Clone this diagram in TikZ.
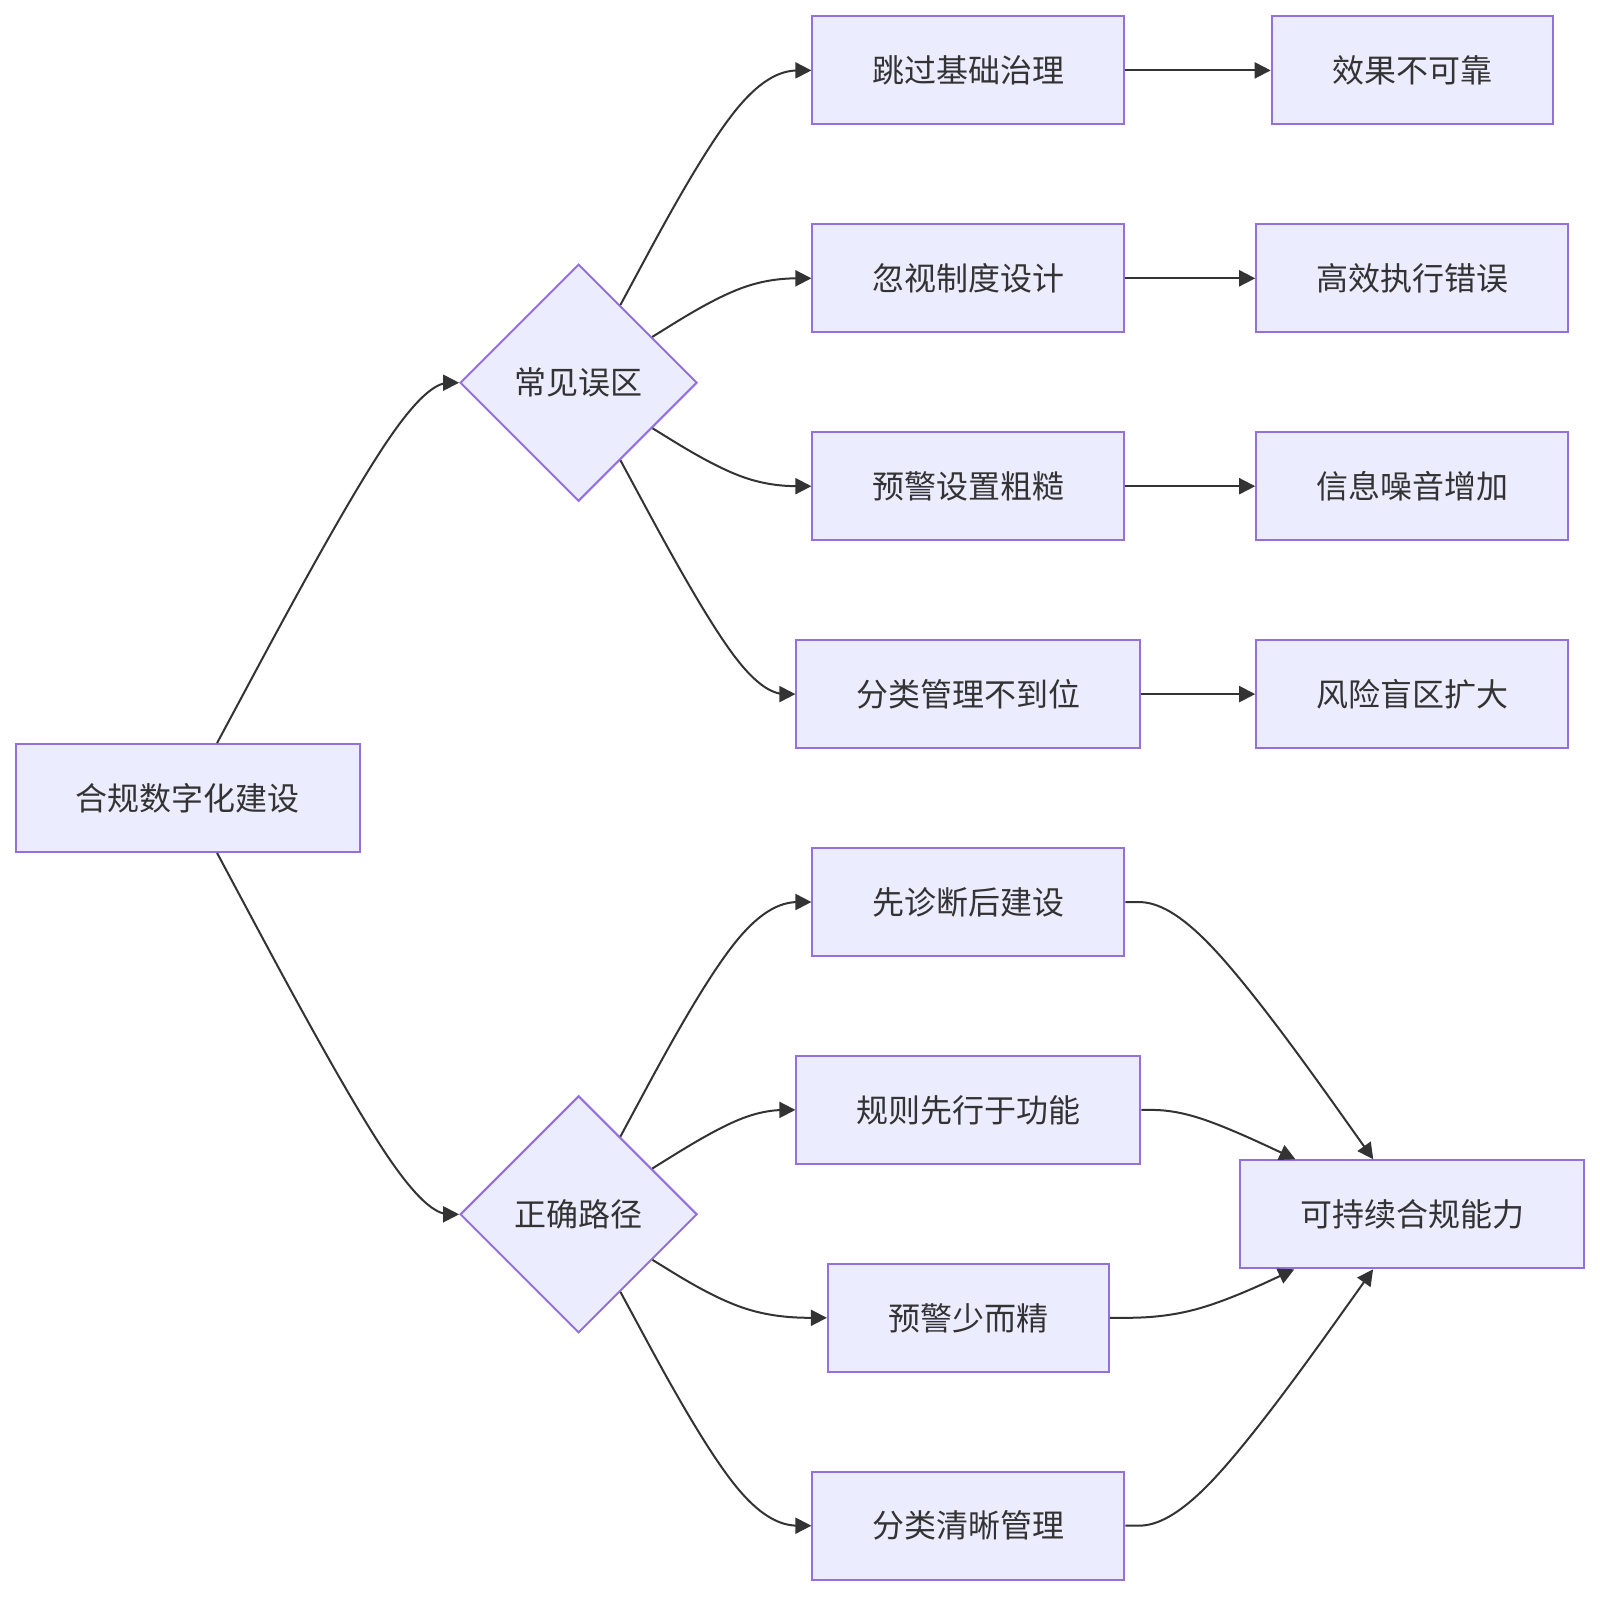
\documentclass[tikz,border=0pt]{standalone}
\usepackage{fontspec}
\setmainfont{Noto Sans CJK SC}
\usetikzlibrary{shapes.geometric,arrows.meta,calc}
\definecolor{boxfill}{HTML}{ECECFF}
\definecolor{boxline}{HTML}{9370DB}
\definecolor{ink}{HTML}{333333}
\newcommand\bcurve[3]{%
  \path (#1) -- (#2) coordinate[pos=0] (bs);
  \path (#2) -- (#3) coordinate[pos=1] (be);
  \draw[edge] (bs) -- ($(bs)!0.16667!(#2)$)
    .. controls ($(bs)!0.33333!(#2)$) and ($(bs)!0.66667!(#2)$) ..
    ($0.16667*(bs)+0.66667*(#2)+0.16667*(be)$)
    .. controls ($(#2)!0.33333!(be)$) and ($(#2)!0.66667!(be)$) ..
    ($(#2)!0.83333!(be)$) -- (be);
}
\begin{document}
\begin{tikzpicture}[x=1pt,y=1pt,
  box/.style={draw=boxline, fill=boxfill, line width=2pt, minimum height=108pt,
    inner sep=0pt, font=\fontsize{32}{38}\selectfont, text=ink},
  w5/.style={box, minimum width=281pt},
  w6/.style={box, minimum width=312pt},
  w7/.style={box, minimum width=344pt},
  dia/.style={diamond, aspect=1, draw=boxline, fill=boxfill, line width=2pt,
    minimum width=237pt, minimum height=237pt, inner sep=0pt,
    font=\fontsize{32}{38}\selectfont, text=ink},
  edge/.style={draw=ink, line width=2pt, -{Triangle[length=16pt,width=16pt]}},
]
\useasboundingbox (0,0) rectangle (1600,-1596);

\node[w7] (A) at (187.8,-798) {合规数字化建设};
\node[dia] (B) at (578.6,-382.7) {常见误区};
\node[dia] (C) at (578.6,-1214.3) {正确路径};

\node[w6] (r1) at (968.4,-70.4) {跳过基础治理};
\node[w6] (r2) at (968.4,-278.3) {忽视制度设计};
\node[w6] (r3) at (968.4,-486.2) {预警设置粗糙};
\node[w7] (r4) at (968.4,-694.1) {分类管理不到位};
\node[w6] (r5) at (968.4,-902.0) {先诊断后建设};
\node[w7] (r6) at (968.4,-1109.9) {规则先行于功能};
\node[w5] (r7) at (968.4,-1317.8) {预警少而精};
\node[w6] (r8) at (968.4,-1525.7) {分类清晰管理};

\node[w5] (e1) at (1412.2,-70.4) {效果不可靠};
\node[w6] (e2) at (1412.2,-278.3) {高效执行错误};
\node[w6] (e3) at (1412.2,-486.2) {信息噪音增加};
\node[w6] (e4) at (1412.2,-694.1) {风险盲区扩大};
\node[w7] (Z) at (1412.2,-1214.3) {可持续合规能力};

\coordinate (mAB) at (410.2,-382.7);
\coordinate (mAC) at (410.2,-1214.3);
\coordinate (m1) at (746.5,-70.4);
\coordinate (m2) at (746.5,-278.3);
\coordinate (m3) at (746.5,-486.2);
\coordinate (m4) at (746.5,-694.1);
\coordinate (m5) at (746.5,-902.0);
\coordinate (m6) at (746.5,-1109.9);
\coordinate (m7) at (746.5,-1317.8);
\coordinate (m8) at (746.5,-1525.7);
\coordinate (n5) at (1190.3,-902.0);
\coordinate (n6) at (1190.3,-1109.9);
\coordinate (n7) at (1190.3,-1317.8);
\coordinate (n8) at (1190.3,-1525.7);

\bcurve{A}{mAB}{B}
\bcurve{A}{mAC}{C}
\bcurve{B}{m1}{r1}
\bcurve{B}{m2}{r2}
\bcurve{B}{m3}{r3}
\bcurve{B}{m4}{r4}
\bcurve{C}{m5}{r5}
\bcurve{C}{m6}{r6}
\bcurve{C}{m7}{r7}
\bcurve{C}{m8}{r8}
\bcurve{r5}{n5}{Z}
\bcurve{r6}{n6}{Z}
\bcurve{r7}{n7}{Z}
\bcurve{r8}{n8}{Z}

\draw[edge] (r1) -- (e1);
\draw[edge] (r2) -- (e2);
\draw[edge] (r3) -- (e3);
\draw[edge] (r4) -- (e4);
\end{tikzpicture}
\end{document}
